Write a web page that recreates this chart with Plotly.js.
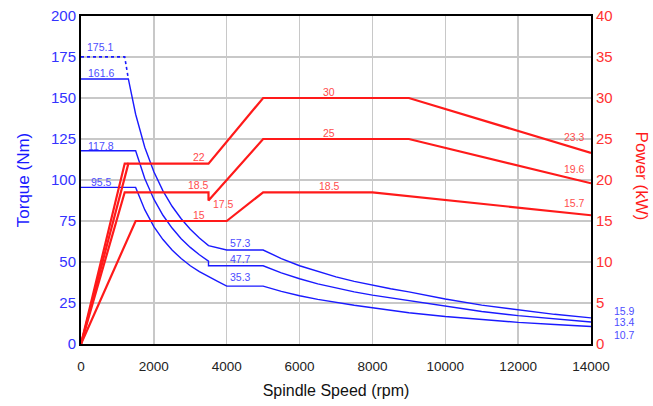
<!DOCTYPE html>
<html><head><meta charset="utf-8">
<script src="https://cdn.plot.ly/plotly-3.0.1.min.js"></script>
<style>html,body{margin:0;padding:0;background:#fff}#chart{width:653px;height:406px}</style>
</head><body><div id="chart"></div>
<script>
// Torque curves (Nm) vs spindle speed (rpm)
const torqueHighRpm = [0,1300,1500,1750,2000,2250,2500,2750,3000,3250,3500,4000,5000,5500,6000,6500,7000,7500,8000,8500,9000,10000,11000,12000,13000,14000];
const torqueHigh    = [161.6,161.6,140.1,120.0,105.0,93.4,84.0,76.4,70.0,64.6,60.0,57.3,57.3,52.1,47.7,44.1,40.9,38.2,35.8,33.7,31.8,27.4,23.7,20.7,18.1,15.9];
const torquePeakRpm = [0,1200,1300];
const torquePeak    = [175.1,175.1,161.6];
const torqueMidRpm  = [0,1500,1750,2000,2250,2500,2750,3000,3250,3500,3500,5000,5500,6000,6500,7000,7500,8000,8500,9000,10000,11000,12000,13000,14000];
const torqueMid     = [117.8,117.8,100.9,88.3,78.5,70.7,64.2,58.9,54.4,50.5,47.7,47.7,43.4,39.8,36.7,34.1,31.8,29.8,28.1,26.5,22.8,19.8,17.3,15.2,13.4];
const torqueLowRpm  = [0,1500,1750,2000,2250,2500,2750,3000,3250,3500,3750,4000,5000,5500,6000,6500,7000,7500,8000,9000,10000,11000,12000,13000,14000];
const torqueLow     = [95.5,95.5,81.9,71.6,63.7,57.3,52.1,47.7,44.1,40.9,38.2,35.3,35.3,32.1,29.4,27.2,25.2,23.6,22.1,19.1,16.8,14.8,13.2,11.9,10.7];

// Power curves (kW) vs spindle speed (rpm)
const powerHighRpm = [0,1300,3500,5000,9000,14000];
const powerHigh    = [0,22,22,30,30,23.3];
const powerPeakRpm = [0,1200,1300];
const powerPeak    = [0,22,22];
const powerMidRpm  = [0,1200,3500,3500,5000,9000,14000];
const powerMid     = [0,18.5,18.5,17.5,25,25,19.6];
const powerLowRpm  = [0,1500,4000,5000,8000,14000];
const powerLow     = [0,15,15,18.5,18.5,15.7];

// Value labels (inside the plot)
const torqueLabelText = ['175.1','161.6','117.8','95.5','57.3','47.7','35.3'];
const torqueLabelX    = [530,557,549,549,4380,4380,4380];
const torqueLabelY    = [180.8,165.3,120.9,99.0,61.5,51.9,41.1];
// End-of-curve torque labels, right of the frame
const torqueEndText   = ['15.9','13.4','10.7'];
const torqueEndY      = [20.4,13.4,5.5];
const powerLabelText  = ['22','18.5','17.5','15','30','25','18.5','23.3','19.6','15.7'];
const powerLabelX     = [3230,3230,3900,3250,6816,6816,6816,13550,13550,13550];
const powerLabelY     = [22.85,19.35,17.1,15.75,30.75,25.75,19.25,25.3,21.3,17.15];

const xTicks = [0,2000,4000,6000,8000,10000,12000,14000];

const BLUE = '#1a1aff', RED = '#ff1a1a';
const FONT = 'Liberation Sans, Arial, Helvetica, sans-serif';

const traces = [
  {x: torquePeakRpm, y: torquePeak, mode:'lines', line:{color:BLUE, width:1.6, dash:'dot'}, yaxis:'y'},
  {x: torqueHighRpm, y: torqueHigh, mode:'lines', line:{color:BLUE, width:1.4}, yaxis:'y'},
  {x: torqueMidRpm,  y: torqueMid,  mode:'lines', line:{color:BLUE, width:1.4}, yaxis:'y'},
  {x: torqueLowRpm,  y: torqueLow,  mode:'lines', line:{color:BLUE, width:1.4}, yaxis:'y'},
  {x: powerPeakRpm, y: powerPeak, mode:'lines', line:{color:RED, width:2.2}, yaxis:'y2'},
  {x: powerHighRpm, y: powerHigh, mode:'lines', line:{color:RED, width:2.2}, yaxis:'y2'},
  {x: powerMidRpm,  y: powerMid,  mode:'lines', line:{color:RED, width:2.2}, yaxis:'y2'},
  {x: powerLowRpm,  y: powerLow,  mode:'lines', line:{color:RED, width:2.2}, yaxis:'y2'}
];

const annotations = [];
torqueLabelText.forEach((t,i)=>annotations.push({x:torqueLabelX[i], y:torqueLabelY[i], xref:'x', yref:'y', text:t, showarrow:false, font:{family:FONT, size:10.5, color:'#4d4dff'}}));
torqueEndText.forEach((t,i)=>annotations.push({x:1.065, y:torqueEndY[i]/200, xref:'paper', yref:'paper', xanchor:'center', yanchor:'middle', text:t, showarrow:false, font:{family:FONT, size:10.5, color:'#4d4dff'}}));
powerLabelText.forEach((t,i)=>annotations.push({x:powerLabelX[i], y:powerLabelY[i], xref:'x', yref:'y2', text:t, showarrow:false, font:{family:FONT, size:10.5, color:'#ff4d4d'}}));
annotations.push({x:1.099, y:0.512, xref:'paper', yref:'paper', xanchor:'center', yanchor:'middle', text:'Power (kW)', textangle:90, showarrow:false, font:{family:FONT, size:17, color:RED}});

const layout = {
  width:653, height:406,
  margin:{l:81, r:62, t:16, b:62},
  paper_bgcolor:'#fff', plot_bgcolor:'#fff',
  showlegend:false,
  font:{family:FONT},
  xaxis:{range:[0,14000], tickvals:xTicks, ticktext:xTicks.map(String), showgrid:true, gridcolor:'#c8c8c8', gridwidth:1.3,
         showline:true, linecolor:'#000', linewidth:2, mirror:true, zeroline:false, ticks:'', ticklabelstandoff:9,
         tickfont:{family:FONT, size:13.5, color:'#222'},
         title:{text:'Spindle Speed (rpm)', font:{family:FONT, size:16, color:'#111'}, standoff:12}},
  yaxis:{range:[0,200], dtick:25, showgrid:true, gridcolor:'#c8c8c8', gridwidth:1.3,
         showline:true, linecolor:'#000', linewidth:2, zeroline:false, ticks:'',
         tickfont:{family:FONT, size:15, color:'#3333ff'},
         title:{text:'Torque (Nm)', font:{family:FONT, size:17, color:BLUE}, standoff:17}},
  yaxis2:{range:[0,40], dtick:5, overlaying:'y', side:'right', showgrid:false,
          showline:true, linecolor:'#000', linewidth:2, zeroline:false, ticks:'',
          tickfont:{family:FONT, size:15, color:'#ff3333'}},
  annotations: annotations
};

Plotly.newPlot('chart', traces, layout, {staticPlot:true, displayModeBar:false});
</script></body></html>
